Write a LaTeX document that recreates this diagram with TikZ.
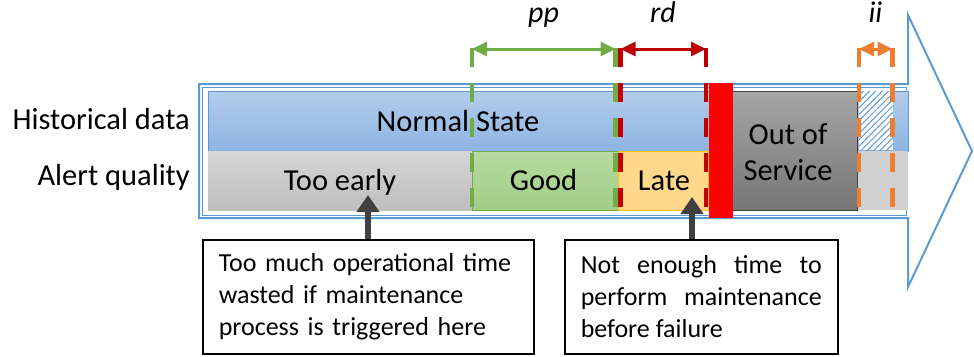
\documentclass[tikz,border=0pt]{standalone}
\usepackage{fontspec}
\setmainfont{Carlito}
\usetikzlibrary{arrows.meta,positioning,patterns.meta}
\definecolor{arrowline}{RGB}{91,155,213}
\definecolor{normaltop}{RGB}{178,204,235}
\definecolor{normalbot}{RGB}{142,180,227}
\definecolor{earlytop}{RGB}{214,214,214}
\definecolor{earlybot}{RGB}{190,190,190}
\definecolor{goodtop}{RGB}{184,218,162}
\definecolor{goodbot}{RGB}{160,205,132}
\definecolor{latefill}{RGB}{255,216,140}
\definecolor{lateline}{RGB}{255,192,0}
\definecolor{outtop}{RGB}{166,166,166}
\definecolor{outbot}{RGB}{118,118,118}
\definecolor{afterfill}{RGB}{208,208,208}
\definecolor{failred}{RGB}{255,0,0}
\definecolor{ppgreen}{RGB}{112,173,71}
\definecolor{rdred}{RGB}{192,0,0}
\definecolor{iiorange}{RGB}{237,125,49}
\definecolor{calloutgray}{RGB}{64,64,64}

\begin{document}
\begin{tikzpicture}[x=1pt, y=-1pt,
  bandtext/.style={font=\fontsize{30.5}{36}\selectfont, inner sep=0pt},
  rowlabel/.style={bandtext, anchor=base east},
  marker/.style={line width=4.5pt, dash pattern=on 19pt off 16pt},
  span/.style={line width=3pt, {Triangle[length=15pt,width=14pt]}-{Triangle[length=15pt,width=14pt]}},
  spanlabel/.style={font=\fontsize{30}{36}\selectfont\itshape, anchor=base, inner sep=0pt},
  note/.style={draw=black, line width=1.5pt, fill=white, anchor=north west,
    inner xsep=16pt, minimum height=114pt, font=\fontsize{26}{32}\selectfont},
  callout/.style={draw=calloutgray, line width=6pt, -{Triangle[length=17pt,width=22pt]}},
]
\useasboundingbox (0,0) rectangle (974,356);

% ---- Big timeline arrow ----
\draw[arrowline, line width=2pt] (199,84) -- (908,84) -- (908,15) -- (972,151)
  -- (908,287) -- (908,218) -- (199,218) -- cycle;
\draw[arrowline, line width=0.8pt] (202,87) rectangle (906,215);

% ---- Bands ----
\shadedraw[top color=normaltop, bottom color=normalbot, draw=arrowline, line width=0.5pt]
  (208,91) rectangle (908,151);
\shade[top color=earlytop, bottom color=earlybot] (208,151) rectangle (472,210);
\shadedraw[top color=goodtop, bottom color=goodbot, draw=ppgreen, line width=0.6pt]
  (472,151) rectangle (618,210);
\filldraw[fill=latefill, draw=lateline, line width=0.6pt] (618,151) rectangle (708,210);
\fill[afterfill] (857,151) rectangle (908,210);
\fill[white] (859,91) rectangle (893,150);
\fill[pattern={Lines[angle=45,distance=4.5pt,line width=1pt]}, pattern color=arrowline]
  (859,91) rectangle (893,150);
\shadedraw[top color=outtop, bottom color=outbot, draw=calloutgray, line width=0.8pt]
  (720,91) rectangle (857,210);

% ---- Band texts ----
\node[rowlabel] (hist) at (190,129) {Historical data};
\node[rowlabel] (qual) at (190,185) {Alert quality};
\node[bandtext, anchor=base] (normal) at (458,131) {Normal State};
\node[bandtext, anchor=base] (early) at (340,190) {Too early};
\node[bandtext, anchor=base] (good) at (543.5,190) {Good};
\node[bandtext, anchor=base] (late) at (664,190) {Late};
\node[bandtext, align=center] (out) at (788,152) {Out of\\Service};

% ---- Interval markers ----
\foreach \name/\px/\col in {pp-l/472/ppgreen, pp-r/615.5/ppgreen, rd-l/620.5/rdred,
    rd-r/706/rdred, ii-l/859/iiorange, ii-r/892.5/iiorange} {
  \coordinate (\name) at (\px,49);
  \draw[marker, \col] (\px,47.5) -- (\px,210);
}
\draw[span, ppgreen] (pp-l) -- (pp-r);
\draw[span, rdred] (rd-l) -- (rd-r);
\draw[span, iiorange] (ii-l) -- (ii-r);
\node[spanlabel] (pp) at (543.5,23) {pp};
\node[spanlabel] (rd) at (663,23) {rd};
\node[spanlabel] (ii) at (875.5,23) {ii};

% ---- Failure ----
\fill[failred] (709,83) rectangle (733,218);

% ---- Notes ----
\node[note, text width=299pt, align=left] (early-note) at (202,239)
  {Too much operational time\\wasted if maintenance\\process is triggered here};
\node[note, text width=241pt, align=justify] (late-note) at (564,239)
  {Not enough time to\linebreak perform maintenance\linebreak before failure};
\coordinate (early-tip) at (368,195);
\coordinate (late-tip) at (692,197);
\draw[callout] (early-note.north -| early-tip) -- (early-tip);
\draw[callout] (late-note.north -| late-tip) -- (late-tip);
\end{tikzpicture}
\end{document}
